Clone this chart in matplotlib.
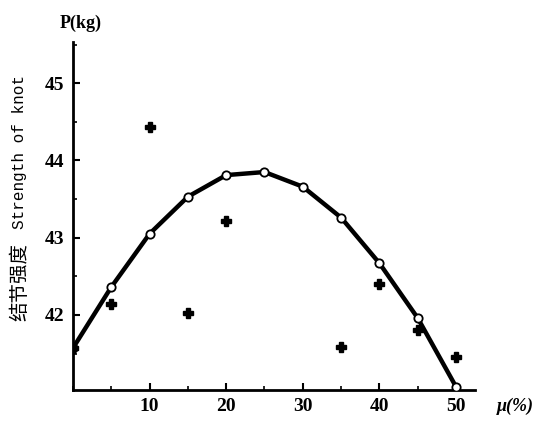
import matplotlib
matplotlib.use("Agg")
import matplotlib.pyplot as plt
from matplotlib.ticker import MultipleLocator

# fitted curve of knot strength vs. mu
mu_curve = [0, 5, 10, 15, 20, 25, 30, 35, 40, 45, 50]
p_curve = [41.57, 42.36, 43.05, 43.53, 43.81, 43.85, 43.66, 43.26, 42.67, 41.96, 41.07]

# measured points
mu_meas = [0, 5, 10, 15, 20, 35, 40, 45, 50]
p_meas = [41.57, 42.14, 44.43, 42.03, 43.21, 41.59, 42.40, 41.81, 41.46]

x_ticks = [10, 20, 30, 40, 50]
y_ticks = [42, 43, 44, 45]

serif = ["Liberation Serif", "Noto Sans CJK SC", "DejaVu Sans"]
plt.rcParams["font.family"] = serif

fig = plt.figure(figsize=(5.4, 4.22), dpi=100)
ax = fig.add_axes([0.135, 0.076, 0.745, 0.824])

ax.plot(mu_curve, p_curve, color="black", lw=3.2, solid_capstyle="round", zorder=2)
ax.plot(mu_curve, p_curve, ls="none", marker="o", ms=6, mfc="white", mec="black",
        mew=1.3, zorder=3)
ax.plot(mu_meas, p_meas, ls="none", marker="P", ms=7, color="black", zorder=4)

ax.set_xlim(0, 52.5)
ax.set_ylim(41.03, 45.53)

for s in ("top", "right"):
    ax.spines[s].set_visible(False)
for s in ("left", "bottom"):
    ax.spines[s].set_linewidth(2)

ax.set_xticks(x_ticks)
ax.set_yticks(y_ticks)
ax.xaxis.set_minor_locator(MultipleLocator(5))
ax.yaxis.set_minor_locator(MultipleLocator(0.5))
ax.tick_params(which="major", direction="in", length=5, width=1.5, labelsize=14, pad=6)
ax.tick_params(which="minor", direction="in", length=3, width=1.2)
for lab in ax.get_xticklabels() + ax.get_yticklabels():
    lab.set_fontweight("bold")

fig.text(0.15, 0.945, "P(kg)", ha="center", va="center", fontsize=13, fontweight="bold")
fig.text(0.955, 0.038, "μ(%)", ha="center", va="center", fontsize=13, style="italic",
         fontweight="bold")
# vertical axis title: Chinese part and English part
fig.text(0.037, 0.331, "结节强度", rotation=90, ha="center", va="center",
         fontsize=14, family=["Noto Sans CJK SC", "DejaVu Sans"])
fig.text(0.037, 0.639, "Strength of knot", rotation=90, ha="center", va="center",
         fontsize=11.5, family=["Liberation Mono", "DejaVu Sans Mono"])

fig.savefig("out.png", dpi=100, facecolor="white")
